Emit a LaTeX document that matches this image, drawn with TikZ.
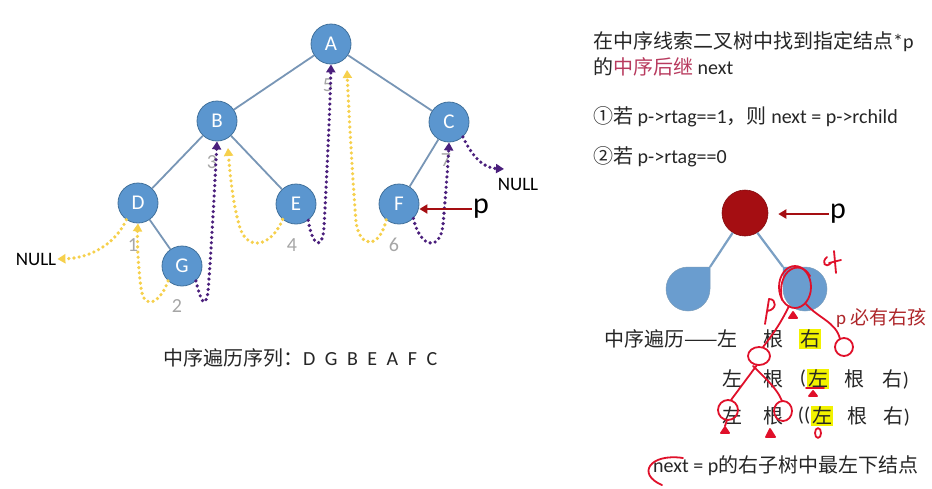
\documentclass[tikz,border=0pt]{standalone}
\usepackage{fontspec}
\setmainfont{Carlito}
\newfontfamily\cjk{Noto Sans CJK SC}
\usetikzlibrary{arrows.meta}
\newcommand\zh[1]{{\cjk #1}}
\definecolor{nodeblue}{HTML}{5B96CF}
\definecolor{nodeedge}{HTML}{41719C}
\definecolor{edgeblue}{HTML}{7896B6}
\definecolor{thyellow}{HTML}{F6D04C}
\definecolor{thpurple}{HTML}{4A1F7C}
\definecolor{numgray}{HTML}{A6A6A6}
\definecolor{darkred}{HTML}{A50E12}
\definecolor{pinkred}{HTML}{B83A5E}
\definecolor{penred}{HTML}{E0102A}
\definecolor{hlyellow}{HTML}{F2F200}
\definecolor{textgray}{HTML}{262626}
\definecolor{shapeblue}{HTML}{6A9DCF}
\definecolor{lineblue}{HTML}{7BA0C4}
\begin{document}
\begin{tikzpicture}[x=1pt,y=-1pt,
  tnode/.style={circle,fill=nodeblue,draw=nodeedge,line width=0.8pt,minimum size=40pt,inner sep=0pt,text=white,font=\fontsize{21}{21}\selectfont},
  tedge/.style={draw=edgeblue,line width=1.8pt},
  thread/.style={line width=3.6pt,dash pattern=on 0pt off 5.2pt,line cap=round,-{Triangle[length=8pt,width=9pt]}},
  ythread/.style={thread,draw=thyellow},
  pthread/.style={thread,draw=thpurple},
  num/.style={text=numgray,font=\fontsize{20}{20}\selectfont,inner sep=0pt},
  nul/.style={text=black,font=\fontsize{19}{20}\selectfont,inner sep=1pt},
  bigp/.style={text=black,font=\fontsize{30}{30}\selectfont,inner sep=1pt},
  redarr/.style={draw=darkred,line width=2.4pt,-{Triangle[length=8pt,width=9pt]}},
  txt/.style={text=textgray,font=\fontsize{20}{22}\selectfont,inner sep=0pt},
  hl/.style={txt,fill=hlyellow,inner sep=1pt},
  pen/.style={draw=penred,line width=1.8pt,line cap=round,line join=round}
]
\useasboundingbox[fill=white] (0,0) rectangle (932,488);

% ---------- left tree ----------
\node[tnode] (A) at (331,44) {A};
\node[tnode] (B) at (217,121) {B};
\node[tnode] (C) at (449,122) {C};
\node[tnode] (D) at (138,203) {D};
\node[tnode] (E) at (296,204) {E};
\node[tnode] (F) at (399,204) {F};
\node[tnode] (G) at (182,266) {G};
\draw[tedge] (A) -- (B);
\draw[tedge] (A) -- (C);
\draw[tedge] (B) -- (D);
\draw[tedge] (B) -- (E);
\draw[tedge] (C) -- (F);
\draw[tedge] (D) -- (G);

\node[num] (n1) at (133,245) {1};
\node[num] (n2) at (177,306) {2};
\node[num] (n3) at (212,162) {3};
\node[num] (n4) at (292,245) {4};
\node[num] (n5) at (328,85) {5};
\node[num] (n6) at (394,245) {6};
\node[num] (n7) at (446,160) {7};

\node[nul] (nullL) at (36,259) {NULL};
\node[nul] (nullR) at (518,184) {NULL};
\coordinate (aY) at (347,70);
\coordinate (bY) at (228,148);
\coordinate (nR) at (504,169);

\draw[ythread] (D.235) .. controls (116,243) and (92,258) .. (nullL.east);
\draw[ythread] (G.227) .. controls (161,302) and (144,312) .. (141,288) .. controls (138,265) and (137,240) .. (D.south);
\draw[pthread] (G.-47) .. controls (200,298) and (205,312) .. (208,292) .. controls (212,240) and (215,180) .. (B.south);
\draw[ythread] (E.229) .. controls (272,246) and (248,252) .. (240,228) .. controls (233,205) and (230,175) .. (bY);
\draw[pthread] (E.-53) .. controls (312,245) and (322,252) .. (324,228) .. controls (327,170) and (330,110) .. (A.south);
\draw[ythread] (F.231) .. controls (380,248) and (360,250) .. (356,222) .. controls (352,170) and (349,115) .. (aY);
\draw[pthread] (F.-45) .. controls (420,248) and (440,252) .. (443,225) .. controls (446,190) and (448,165) .. (C.south);
\draw[pthread] (C.-47) .. controls (474,160) and (485,168) .. (nR);

\node[bigp] (pF) at (481,209) {p};
\draw[redarr] (pF.west) -- (pF.west -| F.east);

\node[txt,anchor=west] (seq) at (163,358)
  {\zh{中序遍历序列：}D\hspace{9.5pt}G\hspace{9.5pt}B\hspace{9.5pt}E\hspace{9.5pt}A\hspace{9.5pt}F\hspace{9.5pt}C};

% ---------- right text ----------
\node[txt,anchor=west] (l1) at (593,42) {\zh{在中序线索二叉树中找到指定结点}*p};
\node[txt,anchor=west] (l2) at (593,67) {\zh{的}\textcolor{pinkred}{\zh{中序后继}} next};
\node[txt,anchor=west] (l3) at (593,117) {\zh{①若} p->rtag==1\zh{，则} next = p->rchild};
\node[txt,anchor=west] (l4) at (593,157) {\zh{②若} p->rtag==0};

% ---------- right tree ----------
\node[circle,fill=darkred,draw=darkred!80!black,line width=0.6pt,minimum size=46pt,inner sep=0pt] (P) at (745,213) {};
\node[bigp] (p2) at (838,214) {p};
\draw[redarr] (p2.west) -- (p2.west -| P.east) [shorten >=10pt];
\coordinate (lc) at (710,267);
\coordinate (rc) at (783,267);
\draw[draw=lineblue,line width=2.2pt] (P.238) -- (lc);
\draw[draw=lineblue,line width=2.2pt] (P.-58) -- (rc);
\fill[shapeblue,draw=nodeedge!70,line width=0.5pt] (lc) -- (688,267) arc[start angle=270,end angle=0,radius=22] -- cycle;
\fill[shapeblue,draw=nodeedge!70,line width=0.5pt] (rc) -- (805,267) arc[start angle=-90,end angle=180,radius=22] -- cycle;
\node[txt,anchor=west,text=darkred!90,font=\fontsize{19}{20}\selectfont] (must) at (836,318) {p \zh{必有右孩}};

% ---------- traversal lines ----------
\node[txt,anchor=west] (r1a) at (604,339) {\zh{中序遍历——左}};
\node[txt] (r1b) at (773,339) {\zh{根}};
\node[hl] (r1c) at (810,339) {\zh{右}};
\node[txt] (r2a) at (732,379) {\zh{左}};
\node[txt] (r2b) at (773,379) {\zh{根}};
\node[txt] (r2c) at (803,379) {(};
\node[hl] (r2d) at (818,379) {\zh{左}};
\node[txt] (r2e) at (854,379) {\zh{根}};
\node[txt] (r2f) at (896,379) {\zh{右})};
\node[txt] (r3a) at (732,416) {\zh{左}};
\node[txt] (r3b) at (773,416) {\zh{根}};
\node[txt] (r3c) at (804,416) {((};
\node[hl] (r3d) at (822,416) {\zh{左}};
\node[txt] (r3e) at (857,416) {\zh{根}};
\node[txt] (r3f) at (897,416) {\zh{右})};
\node[txt,anchor=west] (nx) at (653,466) {next = p\zh{的右子树中最左下结点}};

% ---------- hand-drawn pen marks ----------
\draw[pen] (795,287) ellipse [x radius=16, y radius=21];
\draw[pen] (782,300) .. controls (776,270) and (800,258) .. (810,276);
\draw[pen] (827,257) .. controls (821,262) and (825,269) .. (831,263);
\draw[pen] (834,251) -- (836,273);
\draw[pen] (829,263) -- (841,260);
\draw[pen,fill=penred] (789,318) -- (797,318) -- (793,312) -- cycle;
\draw[pen] (765,324) -- (769,299) .. controls (777,299) and (777,310) .. (767,311);
\draw[pen] (789,306) .. controls (780,325) and (770,338) .. (763,347);
\draw[pen] (759,356) ellipse [x radius=11, y radius=9];
\draw[pen] (806,304) .. controls (818,318) and (836,322) .. (840,339);
\draw[pen] (844,347) circle [radius=9];
\draw[pen] (757,365) -- (731,400);
\draw[pen] (753,366) .. controls (762,375) and (777,388) .. (782,401);
\draw[pen] (728,410) ellipse [x radius=10, y radius=10];
\draw[pen] (783,411) ellipse [x radius=9, y radius=10];
\draw[pen] (727,420) -- (725,426);
\draw[pen,fill=penred] (721,433) -- (729,433) -- (725,427) -- cycle;
\draw[pen,fill=penred] (766,437) -- (775,437) -- (770,429) -- cycle;
\draw[pen] (806,388) -- (824,388);
\draw[pen,fill=penred] (809,396) -- (817,396) -- (813,391) -- cycle;
\draw[pen] (818,433) ellipse [x radius=3, y radius=5];
\draw[pen] (683,458) .. controls (650,453) and (636,474) .. (662,485);
\end{tikzpicture}
\end{document}
